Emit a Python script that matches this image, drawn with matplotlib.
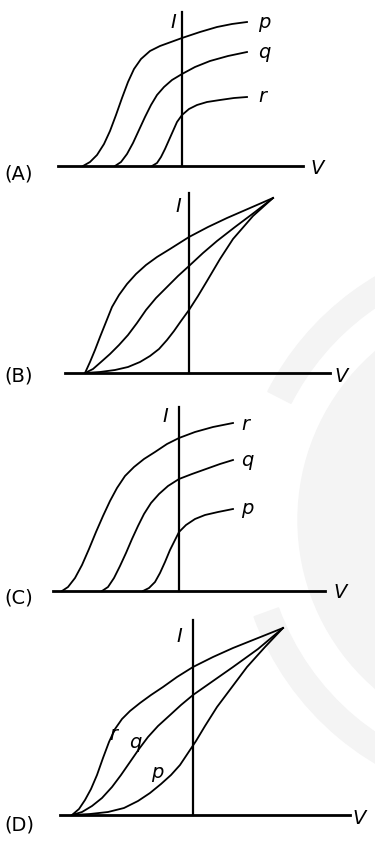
import matplotlib.pyplot as plt
from matplotlib.patches import Circle, Wedge

# curve points (pixel coords, y down)
a_p_x = [83, 90, 97, 104, 110, 116, 122, 128, 134, 141, 150, 160, 171, 182, 200, 217, 232, 247]
a_p_y = [166, 162, 155, 144, 131, 115, 98, 82, 69, 59, 51, 46, 42, 38, 32, 27, 24, 22]
a_q_x = [115, 121, 127, 133, 139, 145, 151, 157, 164, 172, 182, 195, 210, 228, 247]
a_q_y = [166, 162, 154, 143, 130, 117, 105, 95, 87, 80, 74, 67, 61, 56, 52]
a_r_x = [152, 157, 161, 165, 169, 173, 177, 182, 189, 197, 207, 220, 234, 247]
a_r_y = [166, 163, 157, 149, 140, 131, 122, 115, 109, 105, 102, 100, 98, 97]

b_top_x = [85, 90, 95, 100, 106, 112, 119, 127, 136, 146, 157, 170, 189, 208, 227, 250, 273]
b_top_y = [373, 362, 350, 337, 322, 307, 295, 284, 274, 265, 257, 249, 237, 227, 218, 208, 198]
b_mid_x = [85, 93, 101, 110, 119, 128, 137, 146, 156, 167, 178, 189, 203, 217, 235, 255, 273]
b_mid_y = [373, 369, 362, 354, 345, 335, 323, 310, 298, 287, 276, 266, 253, 241, 227, 212, 198]
b_low_x = [85, 100, 115, 128, 140, 150, 159, 167, 174, 181, 189, 198, 207, 220, 233, 253, 273]
b_low_y = [373, 372, 370, 367, 362, 356, 349, 340, 331, 321, 310, 296, 281, 259, 239, 216, 198]

c_r_x = [62, 68, 75, 82, 89, 96, 103, 110, 117, 125, 134, 144, 155, 167, 179, 195, 213, 233]
c_r_y = [591, 587, 578, 565, 549, 532, 516, 501, 488, 476, 467, 459, 452, 444, 438, 432, 427, 423]
c_q_x = [102, 108, 114, 120, 126, 132, 138, 144, 151, 159, 168, 179, 192, 206, 220, 233]
c_q_y = [591, 587, 578, 566, 553, 539, 526, 514, 503, 494, 486, 479, 474, 469, 464, 460]
c_p_x = [143, 149, 155, 160, 165, 170, 175, 179, 186, 195, 205, 218, 233]
c_p_y = [591, 588, 582, 573, 562, 550, 540, 532, 525, 519, 515, 512, 509]

d_r_x = [72, 79, 85, 91, 97, 103, 109, 115, 122, 130, 140, 151, 163, 177, 193, 213, 233, 258, 283]
d_r_y = [815, 809, 800, 789, 775, 758, 742, 729, 719, 711, 703, 695, 687, 677, 667, 657, 648, 638, 628]
d_q_x = [72, 82, 92, 102, 112, 121, 130, 139, 148, 158, 169, 181, 193, 213, 233, 258, 283]
d_q_y = [815, 812, 806, 798, 787, 775, 762, 749, 737, 726, 716, 705, 695, 681, 667, 649, 628]
d_p_x = [72, 90, 108, 124, 138, 150, 161, 171, 180, 188, 196, 205, 217, 232, 247, 265, 283]
d_p_y = [815, 814, 812, 808, 801, 793, 784, 775, 765, 753, 741, 726, 707, 687, 667, 647, 628]

panels = ["(A)", "(B)", "(C)", "(D)"]

fig = plt.figure(figsize=(3.75, 8.43), dpi=100)
ax = fig.add_axes([0, 0, 1, 1])
ax.set_xlim(0, 375)
ax.set_ylim(843, 0)
ax.axis("off")

# faint watermark in the background
wm = "#f4f4f4"
ax.add_patch(Circle((520, 520), 222, color=wm, zorder=0))
ax.add_patch(Wedge((520, 520), 283, 207, 260, width=26, color=wm, zorder=0))
ax.add_patch(Wedge((520, 520), 283, 100, 160, width=26, color=wm, zorder=0))

lw_axis = 2.0
lw_curve = 1.3
fs = 14

# (A)
ax.plot([58, 303], [166, 166], color="black", lw=lw_axis)
ax.plot([182, 182], [12, 166], color="black", lw=1.6)
for xs, ys in [(a_p_x, a_p_y), (a_q_x, a_q_y), (a_r_x, a_r_y)]:
    ax.plot(xs, ys, color="black", lw=lw_curve, solid_joinstyle="round")
ax.text(258, 22, "p", style="italic", fontsize=fs, va="center", ha="left")
ax.text(258, 52, "q", style="italic", fontsize=fs, va="center", ha="left")
ax.text(258, 96, "r", style="italic", fontsize=fs, va="center", ha="left")
ax.text(173, 22, "I", style="italic", fontsize=fs, va="center", ha="center")
ax.text(310, 168, "V", style="italic", fontsize=fs, va="center", ha="left")
ax.text(4, 174, panels[0], fontsize=fs, va="center", ha="left")

# (B)
ax.plot([65, 330], [373, 373], color="black", lw=lw_axis)
ax.plot([189, 189], [193, 373], color="black", lw=1.6)
for xs, ys in [(b_top_x, b_top_y), (b_mid_x, b_mid_y), (b_low_x, b_low_y)]:
    ax.plot(xs, ys, color="black", lw=lw_curve, solid_joinstyle="round")
ax.text(178, 207, "I", style="italic", fontsize=fs, va="center", ha="center")
ax.text(334, 376, "V", style="italic", fontsize=fs, va="center", ha="left")
ax.text(4, 376, panels[1], fontsize=fs, va="center", ha="left")

# (C)
ax.plot([53, 325], [591, 591], color="black", lw=lw_axis)
ax.plot([179, 179], [407, 591], color="black", lw=1.6)
for xs, ys in [(c_r_x, c_r_y), (c_q_x, c_q_y), (c_p_x, c_p_y)]:
    ax.plot(xs, ys, color="black", lw=lw_curve, solid_joinstyle="round")
ax.text(241, 424, "r", style="italic", fontsize=fs, va="center", ha="left")
ax.text(241, 460, "q", style="italic", fontsize=fs, va="center", ha="left")
ax.text(241, 509, "p", style="italic", fontsize=fs, va="center", ha="left")
ax.text(165, 417, "I", style="italic", fontsize=fs, va="center", ha="center")
ax.text(333, 593, "V", style="italic", fontsize=fs, va="center", ha="left")
ax.text(4, 598, panels[2], fontsize=fs, va="center", ha="left")

# (D)
ax.plot([60, 350], [815, 815], color="black", lw=lw_axis)
ax.plot([193, 193], [620, 815], color="black", lw=1.6)
for xs, ys in [(d_r_x, d_r_y), (d_q_x, d_q_y), (d_p_x, d_p_y)]:
    ax.plot(xs, ys, color="black", lw=lw_curve, solid_joinstyle="round")
ax.text(113, 735, "r", style="italic", fontsize=fs, va="center", ha="center")
ax.text(135, 743, "q", style="italic", fontsize=fs, va="center", ha="center")
ax.text(157, 772, "p", style="italic", fontsize=fs, va="center", ha="center")
ax.text(179, 636, "I", style="italic", fontsize=fs, va="center", ha="center")
ax.text(352, 818, "V", style="italic", fontsize=fs, va="center", ha="left")
ax.text(4, 825, panels[3], fontsize=fs, va="center", ha="left")

fig.savefig("out.png", dpi=100)
